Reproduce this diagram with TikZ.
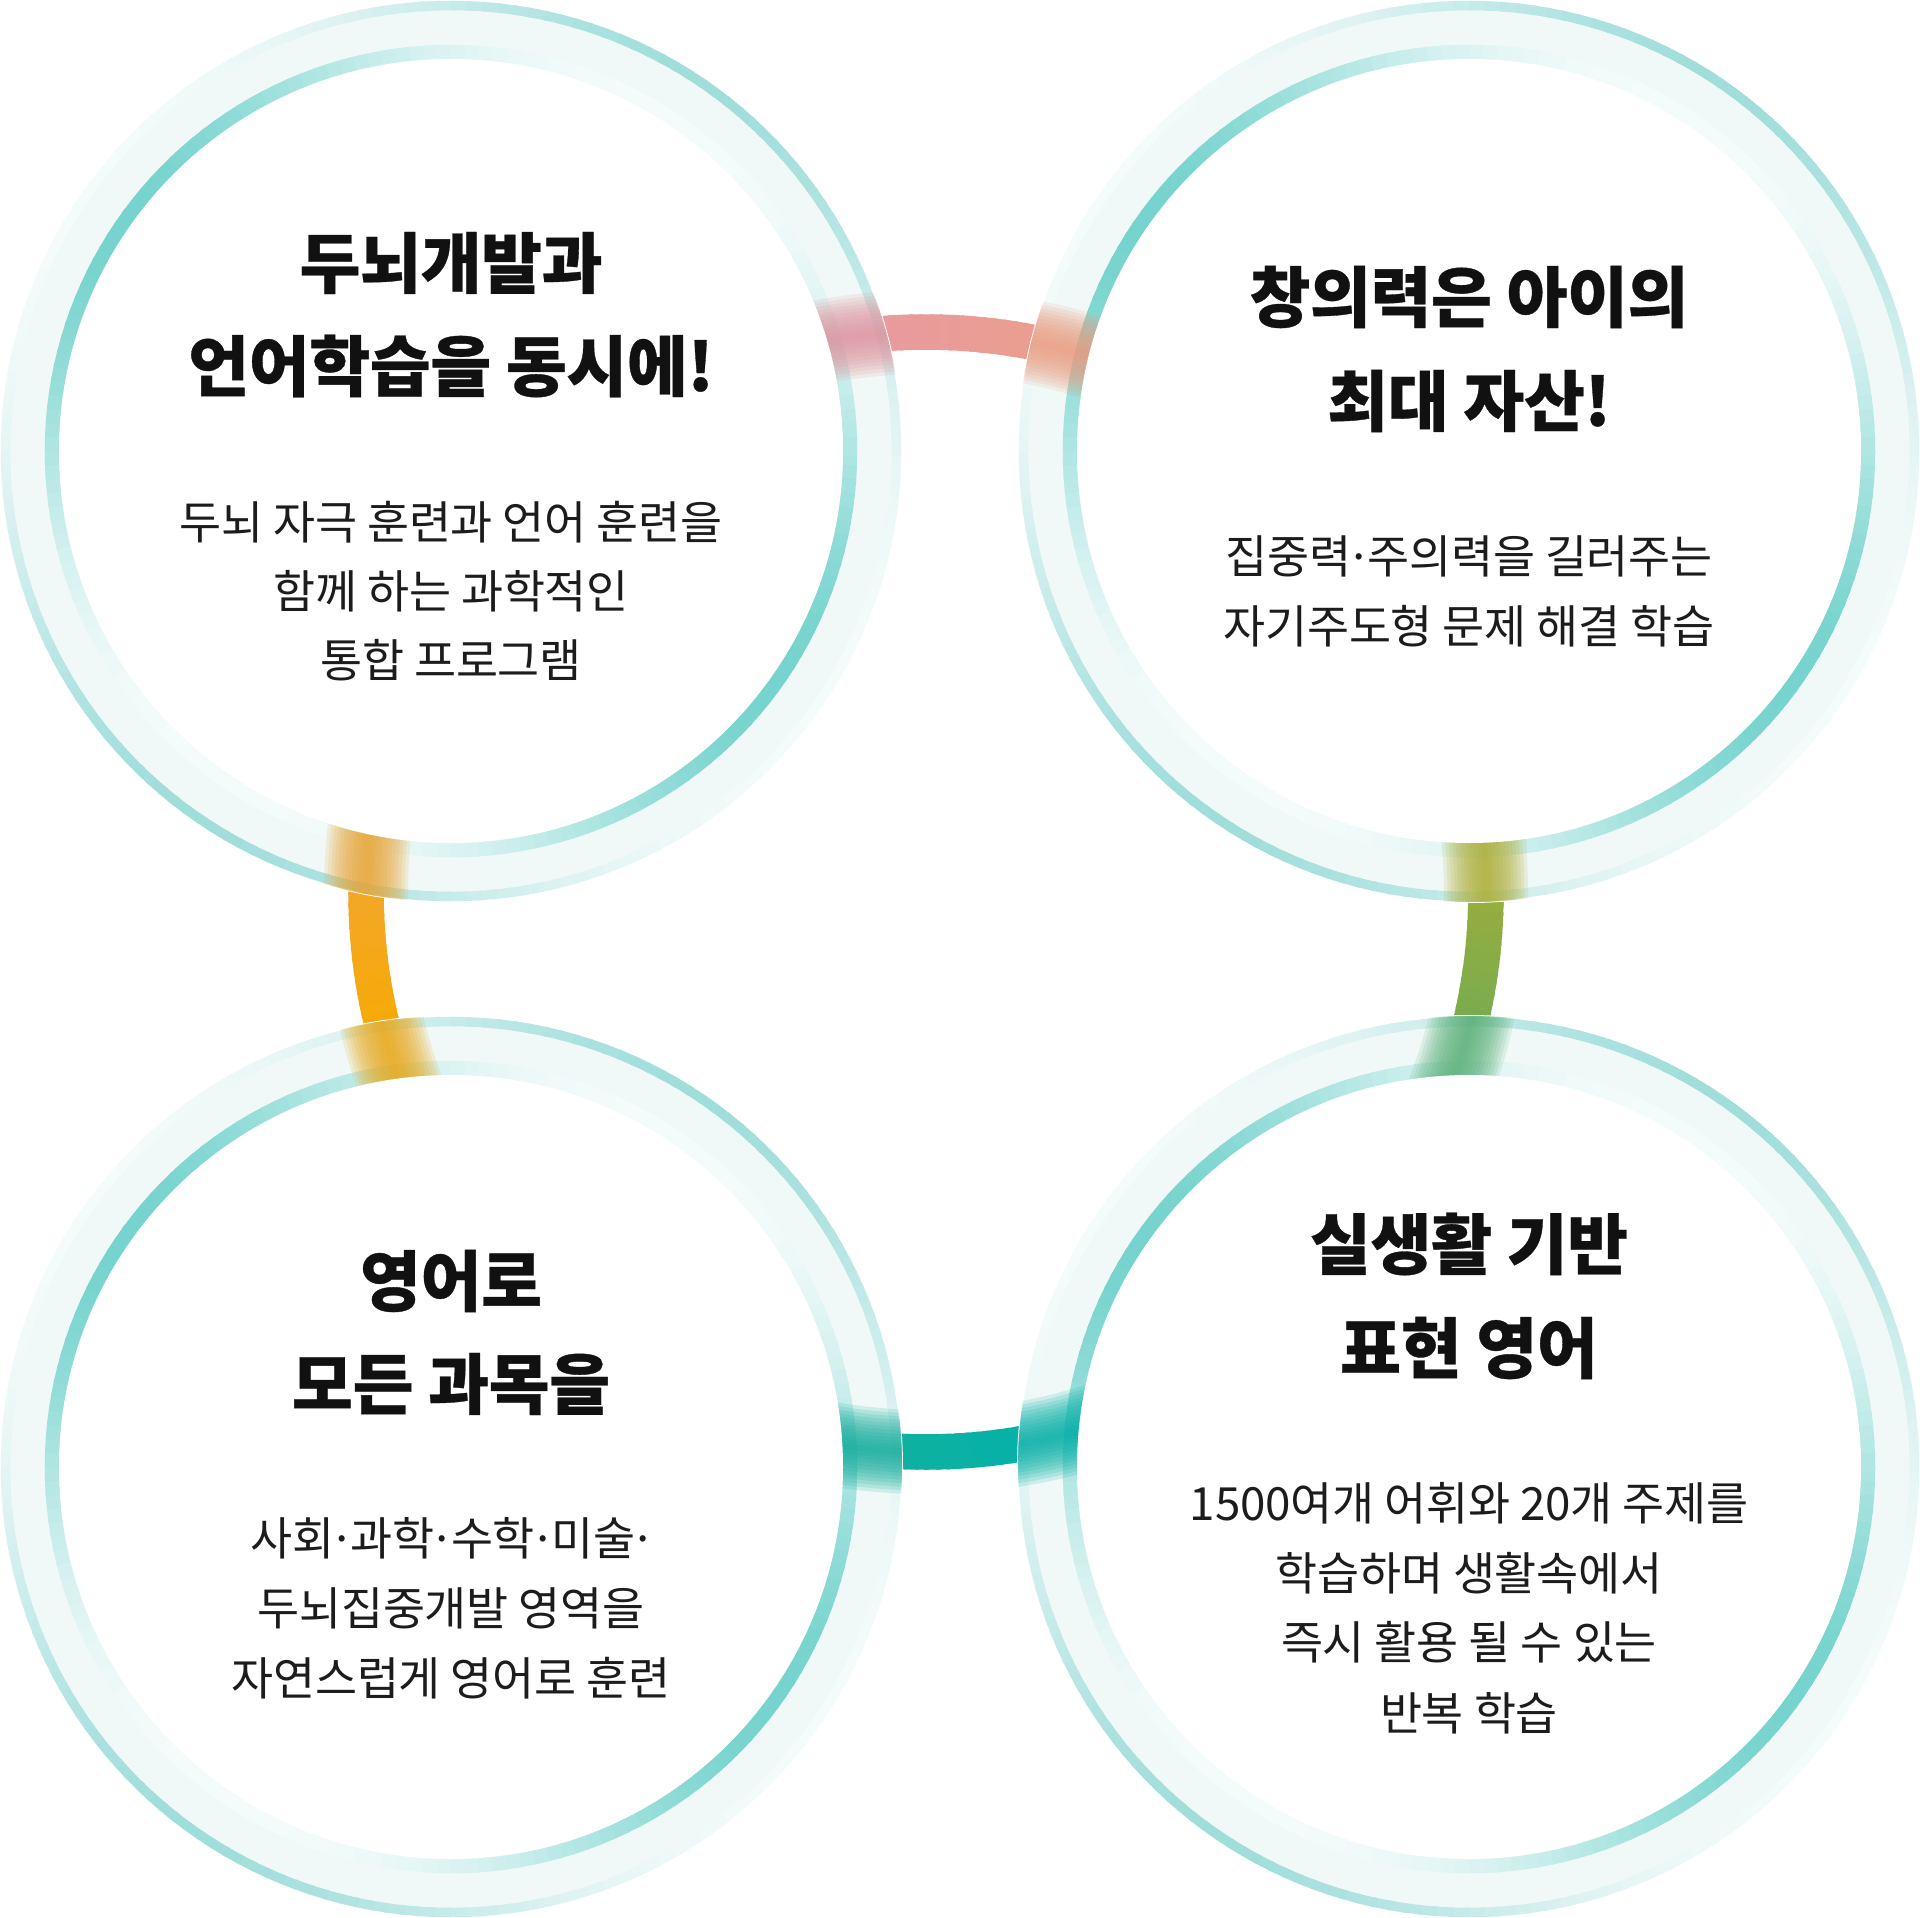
\documentclass[tikz,border=0pt]{standalone}
\usepackage{fontspec}
\setmainfont{Noto Sans CJK KR}
\newfontfamily\titlefont{Noto Sans CJK KR}[LetterSpace=-0.5, BoldFeatures={FakeBold=0.5}]
\newfontfamily\bodyfont{Noto Sans CJK KR}[LetterSpace=-0.5]
\usetikzlibrary{calc}

\definecolor{ringin}{HTML}{76D3CD}
\definecolor{ringout}{HTML}{A0DEDA}
\definecolor{bandcol}{HTML}{F0F9F7}
\definecolor{pkA}{HTML}{E8999F}
\definecolor{pkB}{HTML}{EB9F8E}
\definecolor{grA}{HTML}{9CAE3C}
\definecolor{grB}{HTML}{72AC52}
\definecolor{tqA}{HTML}{03B2A9}
\definecolor{tqB}{HTML}{12B09E}
\definecolor{orA}{HTML}{F7AB00}
\definecolor{orB}{HTML}{F2A62E}
\definecolor{xa}{HTML}{DF95A0}
\definecolor{xb}{HTML}{EA9C80}
\definecolor{xc}{HTML}{AEAE36}
\definecolor{xd}{HTML}{5AB078}
\definecolor{xe}{HTML}{02AFA6}
\definecolor{xf}{HTML}{12AD9C}
\definecolor{xg}{HTML}{E8A818}
\definecolor{xh}{HTML}{E8A434}
\definecolor{titlecol}{HTML}{111111}
\definecolor{bodycol}{HTML}{1C1C1C}

\tikzset{
  conn/.style={line width=0.355cm, line cap=butt},
  ttl/.style={font=\titlefont\bfseries\fontsize{18.8pt}{22pt}\selectfont, text=titlecol, inner sep=0pt, anchor=center},
  bdy/.style={font=\bodyfont\fontsize{13pt}{15pt}\selectfont, text=bodycol, inner sep=0pt, anchor=center}
}

% narrow middle dot
\newcommand\mdot{\kern-0.1em·\kern-0.1em}

% ring made of short arcs whose tint varies with the angle
\newcommand\ringsegs[7]{%
  \foreach \ang in {0,2,...,358}{%
    \pgfmathsetmacro\rv{max(0,(1+cos(2*(\ang+1-#6)))/2)}%
    \pgfmathtruncatemacro\pc{round(100*(#7+(1-#7)*\rv*sqrt(\rv)))}%
    \pgfmathsetmacro\bq{\ang+2.6}%
    \draw[line width=#4, color=#5!\pc!white] plot[domain=\ang:\bq, samples=3, variable=\t] ({#1+#3*cos(\t)},{#2+#3*sin(\t)});
  }}

% connector arc of the big ring with a colour gradient
\newcommand\gradarc[5]{%
  \foreach \k in {1,...,#5}{%
    \pgfmathsetmacro\ta{#1+(#2-#1)*(\k-1)/#5}%
    \pgfmathsetmacro\tb{#1+(#2-#1)*\k/#5+0.4}%
    \pgfmathtruncatemacro\pc{round(100*(\k-0.5)/#5)}%
    \draw[conn, color=#4!\pc!#3] plot[domain=\ta:\tb, samples=4, variable=\t] ({926+560*cos(\t)},{892+560*sin(\t)});
  }}

% circle frame: pale band, outer thin ring, inner ring
\newcommand\circleframe[2]{%
  \fill[white] (#1,#2) circle (452);
  \draw[bandcol, line width=0.36cm] (#1,#2) circle (423.5);
  \ringsegs{#1}{#2}{445.5}{0.095cm}{ringout}{125}{0.12}
  \ringsegs{#1}{#2}{399}{0.145cm}{ringin}{35}{0.08}
}

% blurred crossing of a connector through a frame
\newcommand\blurx[5]{%
  \begin{scope}
    \clip (#1,#2) circle (451);
    \foreach \w in {0.07,0.14,...,0.85}{%
      \draw[line width=\w cm, color=#5, opacity=0.15] plot[domain=#3:#4, samples=24, variable=\t] ({926+560*cos(\t)},{892+560*sin(\t)});
    }
  \end{scope}}

\begin{document}
\begin{tikzpicture}[x=0.01cm, y=-0.01cm]
\useasboundingbox (0,0) rectangle (1920,1918);
\fill[white] (0,0) rectangle (1920,1918);

\coordinate (big) at (926,892);
\coordinate (c1) at (451,451);
\coordinate (c2) at (1469,451);
\coordinate (c3) at (451,1467);
\coordinate (c4) at (1469,1467);

% connectors (sharp parts)
\gradarc{-97}{-76}{pkA}{pkB}{20}
\gradarc{-2}{16}{grA}{grB}{18}
\gradarc{77}{96}{tqA}{tqB}{18}
\gradarc{163}{183}{orA}{orB}{18}

% circle frames
\circleframe{451}{451}
\circleframe{1469}{451}
\circleframe{451}{1467}
\circleframe{1469}{1467}

% blurred crossings
\blurx{451}{451}{-106}{-88}{xa}
\blurx{1469}{451}{-85}{-67}{xb}
\blurx{1469}{451}{-11}{7}{xc}
\blurx{1469}{1467}{7}{25}{xd}
\blurx{1469}{1467}{68}{86}{xe}
\blurx{451}{1467}{87}{104}{xf}
\blurx{451}{1467}{155}{172}{xg}
\blurx{451}{451}{174}{192}{xh}

% white interiors
\foreach \cc in {c1,c2,c3,c4}{\fill[white] (\cc) circle (392);}

% texts
\node[ttl] (tla) at (451,263) {두뇌개발과};
\node[ttl] (tlb) at (451,366) {언어학습을 동시에!};
\node[bdy] (tlc) at (451,522) {두뇌 자극 훈련과 언어 훈련을};
\node[bdy] (tld) at (451,591) {함께 하는 과학적인};
\node[bdy] (tle) at (451,660) {통합 프로그램};

\node[ttl] (tra) at (1469,297) {창의력은 아이의};
\node[ttl] (trb) at (1469,401) {최대 자산!};
\node[bdy] (trc) at (1469,556) {집중력\mdot 주의력을 길러주는};
\node[bdy] (trd) at (1469,626) {자기주도형 문제 해결 학습};

\node[ttl] (bla) at (451,1281) {영어로};
\node[ttl] (blb) at (451,1384) {모든 과목을};
\node[bdy] (blc) at (451,1538) {사회\mdot 과학\mdot 수학\mdot 미술\mdot};
\node[bdy] (bld) at (451,1608) {두뇌집중개발 영역을};
\node[bdy] (ble) at (451,1678) {자연스럽게 영어로 훈련};

\node[ttl] (bra) at (1469,1244) {실생활 기반};
\node[ttl] (brb) at (1469,1348) {표현 영어};
\node[bdy] (brc) at (1469,1503) {1500여개 어휘와 20개 주제를};
\node[bdy] (brd) at (1469,1573) {학습하며 생활속에서};
\node[bdy] (bre) at (1469,1642) {즉시 활용 될 수 있는};
\node[bdy] (brf) at (1469,1713) {반복 학습};
\end{tikzpicture}
\end{document}
